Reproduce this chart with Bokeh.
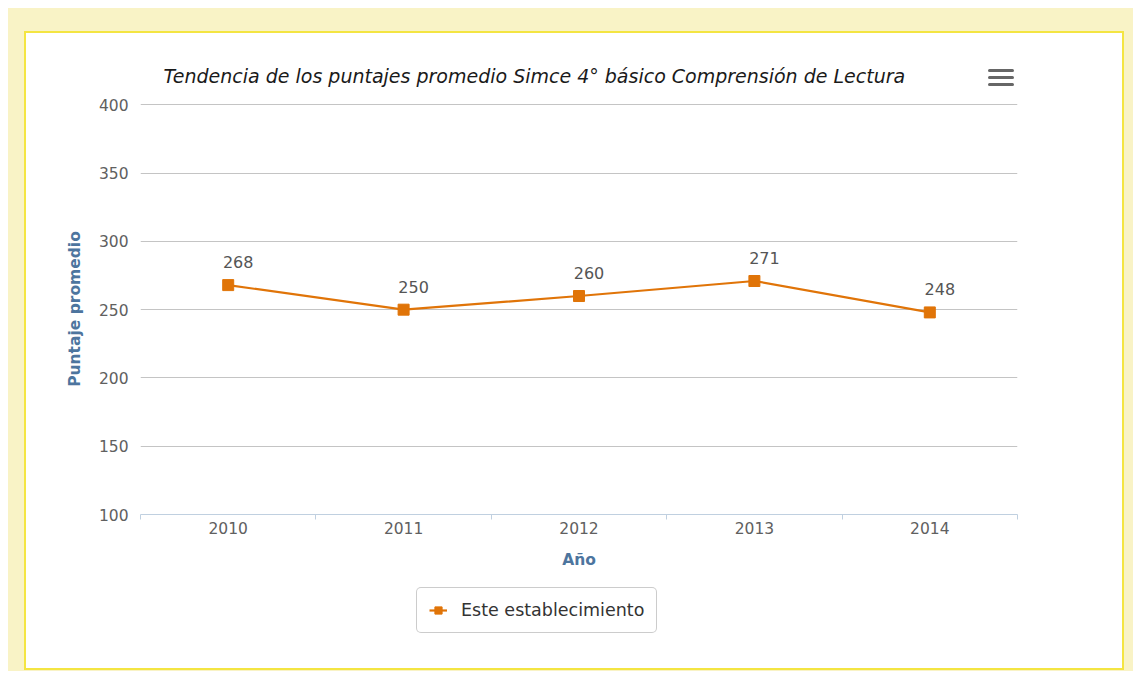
from bokeh.plotting import figure
from bokeh.models import (ColumnDataSource, FixedTicker, Legend, LegendItem,
                          LabelSet, Range1d, Div)
from bokeh.layouts import column
from bokeh.embed import file_html
from bokeh.resources import INLINE
from bokeh.core.properties import value

# ---- data ----
years = [2010, 2011, 2012, 2013, 2014]
scores = [268, 250, 260, 271, 248]
y_ticks = [100, 150, 200, 250, 300, 350, 400]
title_text = "Tendencia de los puntajes promedio Simce 4° básico Comprensión de Lectura"
y_title = "Puntaje promedio"
x_title = "Año"
series_name = "Este establecimiento"

ORANGE = "#e07408"
AXIS_BLUE = "#4d759e"
FONT = "DejaVu Sans"

src = ColumnDataSource(dict(x=years, y=scores, lbl=[str(v) for v in scores]))

p = figure(width=1096, height=552, output_backend="svg", toolbar_location=None,
           x_range=Range1d(years[0] - 0.5, years[-1] + 0.5),
           y_range=Range1d(y_ticks[0], y_ticks[-1] + 1),
           min_border_left=114, min_border_right=105, min_border_top=70,
           min_border_bottom=71,
           background_fill_color="white", border_fill_color="white",
           outline_line_color=None)

# title
p.title.text = title_text
p.title.text_font = FONT
p.title.text_font_style = "italic"
p.title.text_font_size = "19px"
p.title.text_color = "#1a1a1a"
p.title.align = "left"
p.title.offset = 23
p.title.standoff = 33

# y axis
p.yaxis.ticker = FixedTicker(ticks=y_ticks)
p.yaxis.axis_line_color = None
p.yaxis.major_tick_line_color = None
p.yaxis.major_tick_out = 0
p.yaxis.major_tick_in = 0
p.yaxis.minor_tick_line_color = None
p.yaxis.minor_tick_out = 0
p.yaxis.major_label_text_color = "#606060"
p.yaxis.major_label_text_font = FONT
p.yaxis.major_label_text_font_size = "15.5px"
p.yaxis.major_label_standoff = 12
p.yaxis.axis_label = y_title
p.yaxis.axis_label_text_font = FONT
p.yaxis.axis_label_text_font_style = "bold"
p.yaxis.axis_label_text_font_size = "15.5px"
p.yaxis.axis_label_text_color = AXIS_BLUE
p.yaxis.axis_label_standoff = 12

# x axis with ticks between categories
bounds = [y - 0.5 for y in years] + [years[-1] + 0.5]
p.xaxis.ticker = FixedTicker(ticks=years, minor_ticks=bounds)
p.xaxis.major_label_overrides = {y: str(y) for y in years}
p.xaxis.axis_line_color = "#c0d0e0"
p.xaxis.major_tick_line_color = None
p.xaxis.major_tick_out = 0
p.xaxis.major_tick_in = 0
p.xaxis.minor_tick_line_color = "#c0d0e0"
p.xaxis.minor_tick_out = 5
p.xaxis.minor_tick_in = 0
p.xaxis.major_label_text_color = "#606060"
p.xaxis.major_label_text_font = FONT
p.xaxis.major_label_text_font_size = "15.5px"
p.xaxis.major_label_standoff = 2
p.xaxis.axis_label = x_title
p.xaxis.axis_label_text_font = FONT
p.xaxis.axis_label_text_font_style = "bold"
p.xaxis.axis_label_text_font_size = "15.5px"
p.xaxis.axis_label_text_color = AXIS_BLUE
p.xaxis.axis_label_standoff = 14

# grid
p.xgrid.visible = False
p.ygrid.ticker = FixedTicker(ticks=y_ticks)
p.ygrid.grid_line_color = "#c4c4c4"

# series
line_style = dict(line_color=ORANGE, line_width=2.2)
marker_style = dict(marker="square", size=11, fill_color=ORANGE, line_color=ORANGE)
p.line("x", "y", source=src, **line_style)
p.scatter("x", "y", source=src, **marker_style)

labels = LabelSet(x="x", y="y", text="lbl", source=src, x_offset=10, y_offset=23,
                  text_align="center", text_baseline="middle",
                  text_font=value(FONT), text_font_size="16px", text_color="#555555")
p.add_layout(labels)

# legend strip (separate small figure below the chart; its frame is aligned
# with the chart's frame, the series itself lies outside its ranges)
lf = figure(width=1096, height=83, output_backend="svg", toolbar_location=None,
            x_range=Range1d(0, 1), y_range=Range1d(0, 1),
            x_axis_type=None, y_axis_type=None, min_border=0,
            background_fill_color="white", border_fill_color="white",
            outline_line_color=None)
lf.xgrid.visible = False
lf.ygrid.visible = False
l_ln = lf.line("x", "y", source=src, **line_style)
l_sc = lf.scatter("x", "y", source=src, marker="square", size=13,
                  fill_color=ORANGE, line_color=ORANGE)

legend = Legend(items=[LegendItem(label=series_name, renderers=[l_ln, l_sc])],
                location=(276, 35), orientation="horizontal",
                border_line_color="#9a9a9a", border_line_width=1,
                background_fill_color="white", background_fill_alpha=1,
                label_text_font=FONT, label_text_font_size="17.5px",
                label_text_color="#333333", glyph_width=18, glyph_height=18,
                label_standoff=14, padding=12, margin=0)
if "border_radius" in Legend.properties():
    legend.border_radius = 5
lf.add_layout(legend, "center")

inner = column(p, lf, styles={"border": "2px solid #f4e542",
                              "background-color": "white"})

# export-menu icon (decoration)
bar = '<div style="width:26px;height:3px;background:#666;border-radius:2px;margin-bottom:4px"></div>'
menu = Div(text=bar * 3, width=26, height=20, margin=0,
           styles={"position": "absolute", "left": "980px", "top": "61px"})

root = column(inner, menu, styles={"background-color": "#f9f3c6",
                                   "padding": "23px 9px 1px 16px",
                                   "margin": "8px 0 0 8px",
                                   "position": "relative"})

open("out.html", "w").write(file_html(root, INLINE))
